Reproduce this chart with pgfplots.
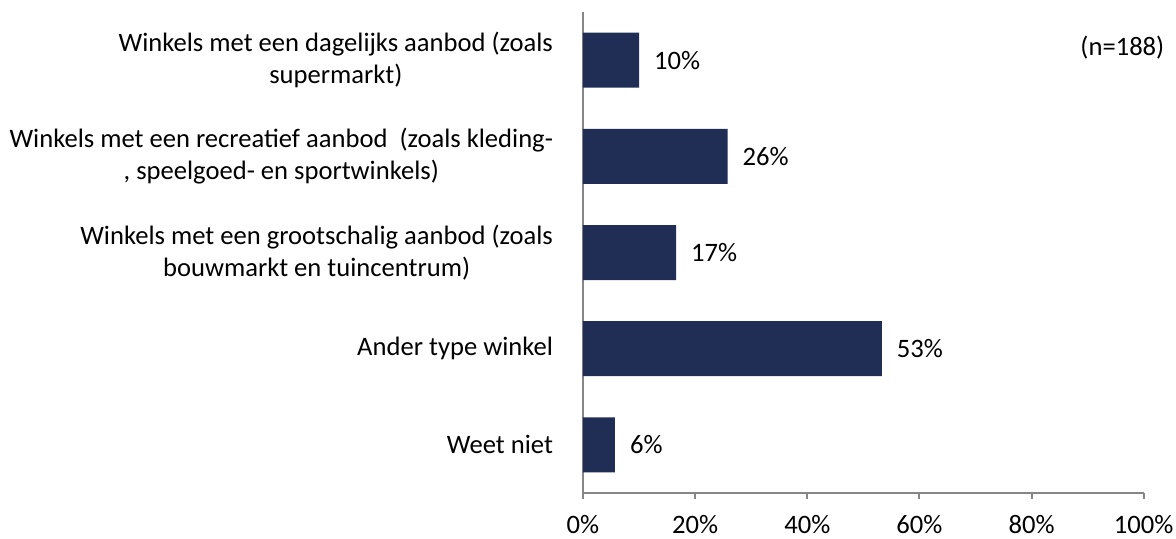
\documentclass[border=0pt]{standalone}
\usepackage{pgfplots}
\pgfplotsset{compat=1.18}
\usepackage{fontspec}
\setmainfont{Carlito}
\definecolor{barblue}{RGB}{32,46,86}
\definecolor{axgray}{RGB}{134,134,134}
\begin{document}
\begin{tikzpicture}[font=\fontsize{13.3}{16}\selectfont]
\begin{axis}[
  name=ax,
  scale only axis,
  width=280.35pt, height=240.5pt,
  xbar, bar width=27.5pt,
  xmin=0, xmax=100,
  ymin=-0.5, ymax=4.5,
  y dir=reverse,
  axis x line*=bottom, axis y line*=left,
  axis line style={axgray, line width=1pt},
  xtick={0,20,40,60,80,100},
  xticklabel={\pgfmathprintnumber{\tick}\%},
  xtick style={axgray, line width=1pt},
  tick align=outside,
  major tick length=3pt,
  xticklabel style={yshift=-4.5pt},
  ytick={0,1,2,3,4},
  ytick style={draw=none},
  yticklabels={{Winkels met een dagelijks aanbod (zoals\\supermarkt)},
               {Winkels met een recreatief aanbod\ \ (zoals kleding-\\, speelgoed- en sportwinkels)},
               {Winkels met een grootschalig aanbod (zoals\\bouwmarkt en tuincentrum)},
               {Ander type winkel},
               {Weet niet}},
  yticklabel style={align=center, xshift=-8.5pt},
  /pgf/number format/assume math mode=true,
  nodes near coords={\pgfmathprintnumber[fixed,precision=0]{\pgfplotspointmeta}\%},
  nodes near coords style={anchor=west, xshift=4pt, black},
  clip=false,
]
\addplot[fill=barblue, draw=none] coordinates {(10.0,0) (25.8,1) (16.6,2) (53.3,3) (5.7,4)};
\node at (axis cs:96.2,-0.13) {(n=188)};
\end{axis}
\pgfresetboundingbox
\useasboundingbox ([shift={(-291.5pt,-23pt)}]ax.south west) rectangle ([shift={(296.5pt,246.5pt)}]ax.south west);
\end{tikzpicture}
\end{document}
